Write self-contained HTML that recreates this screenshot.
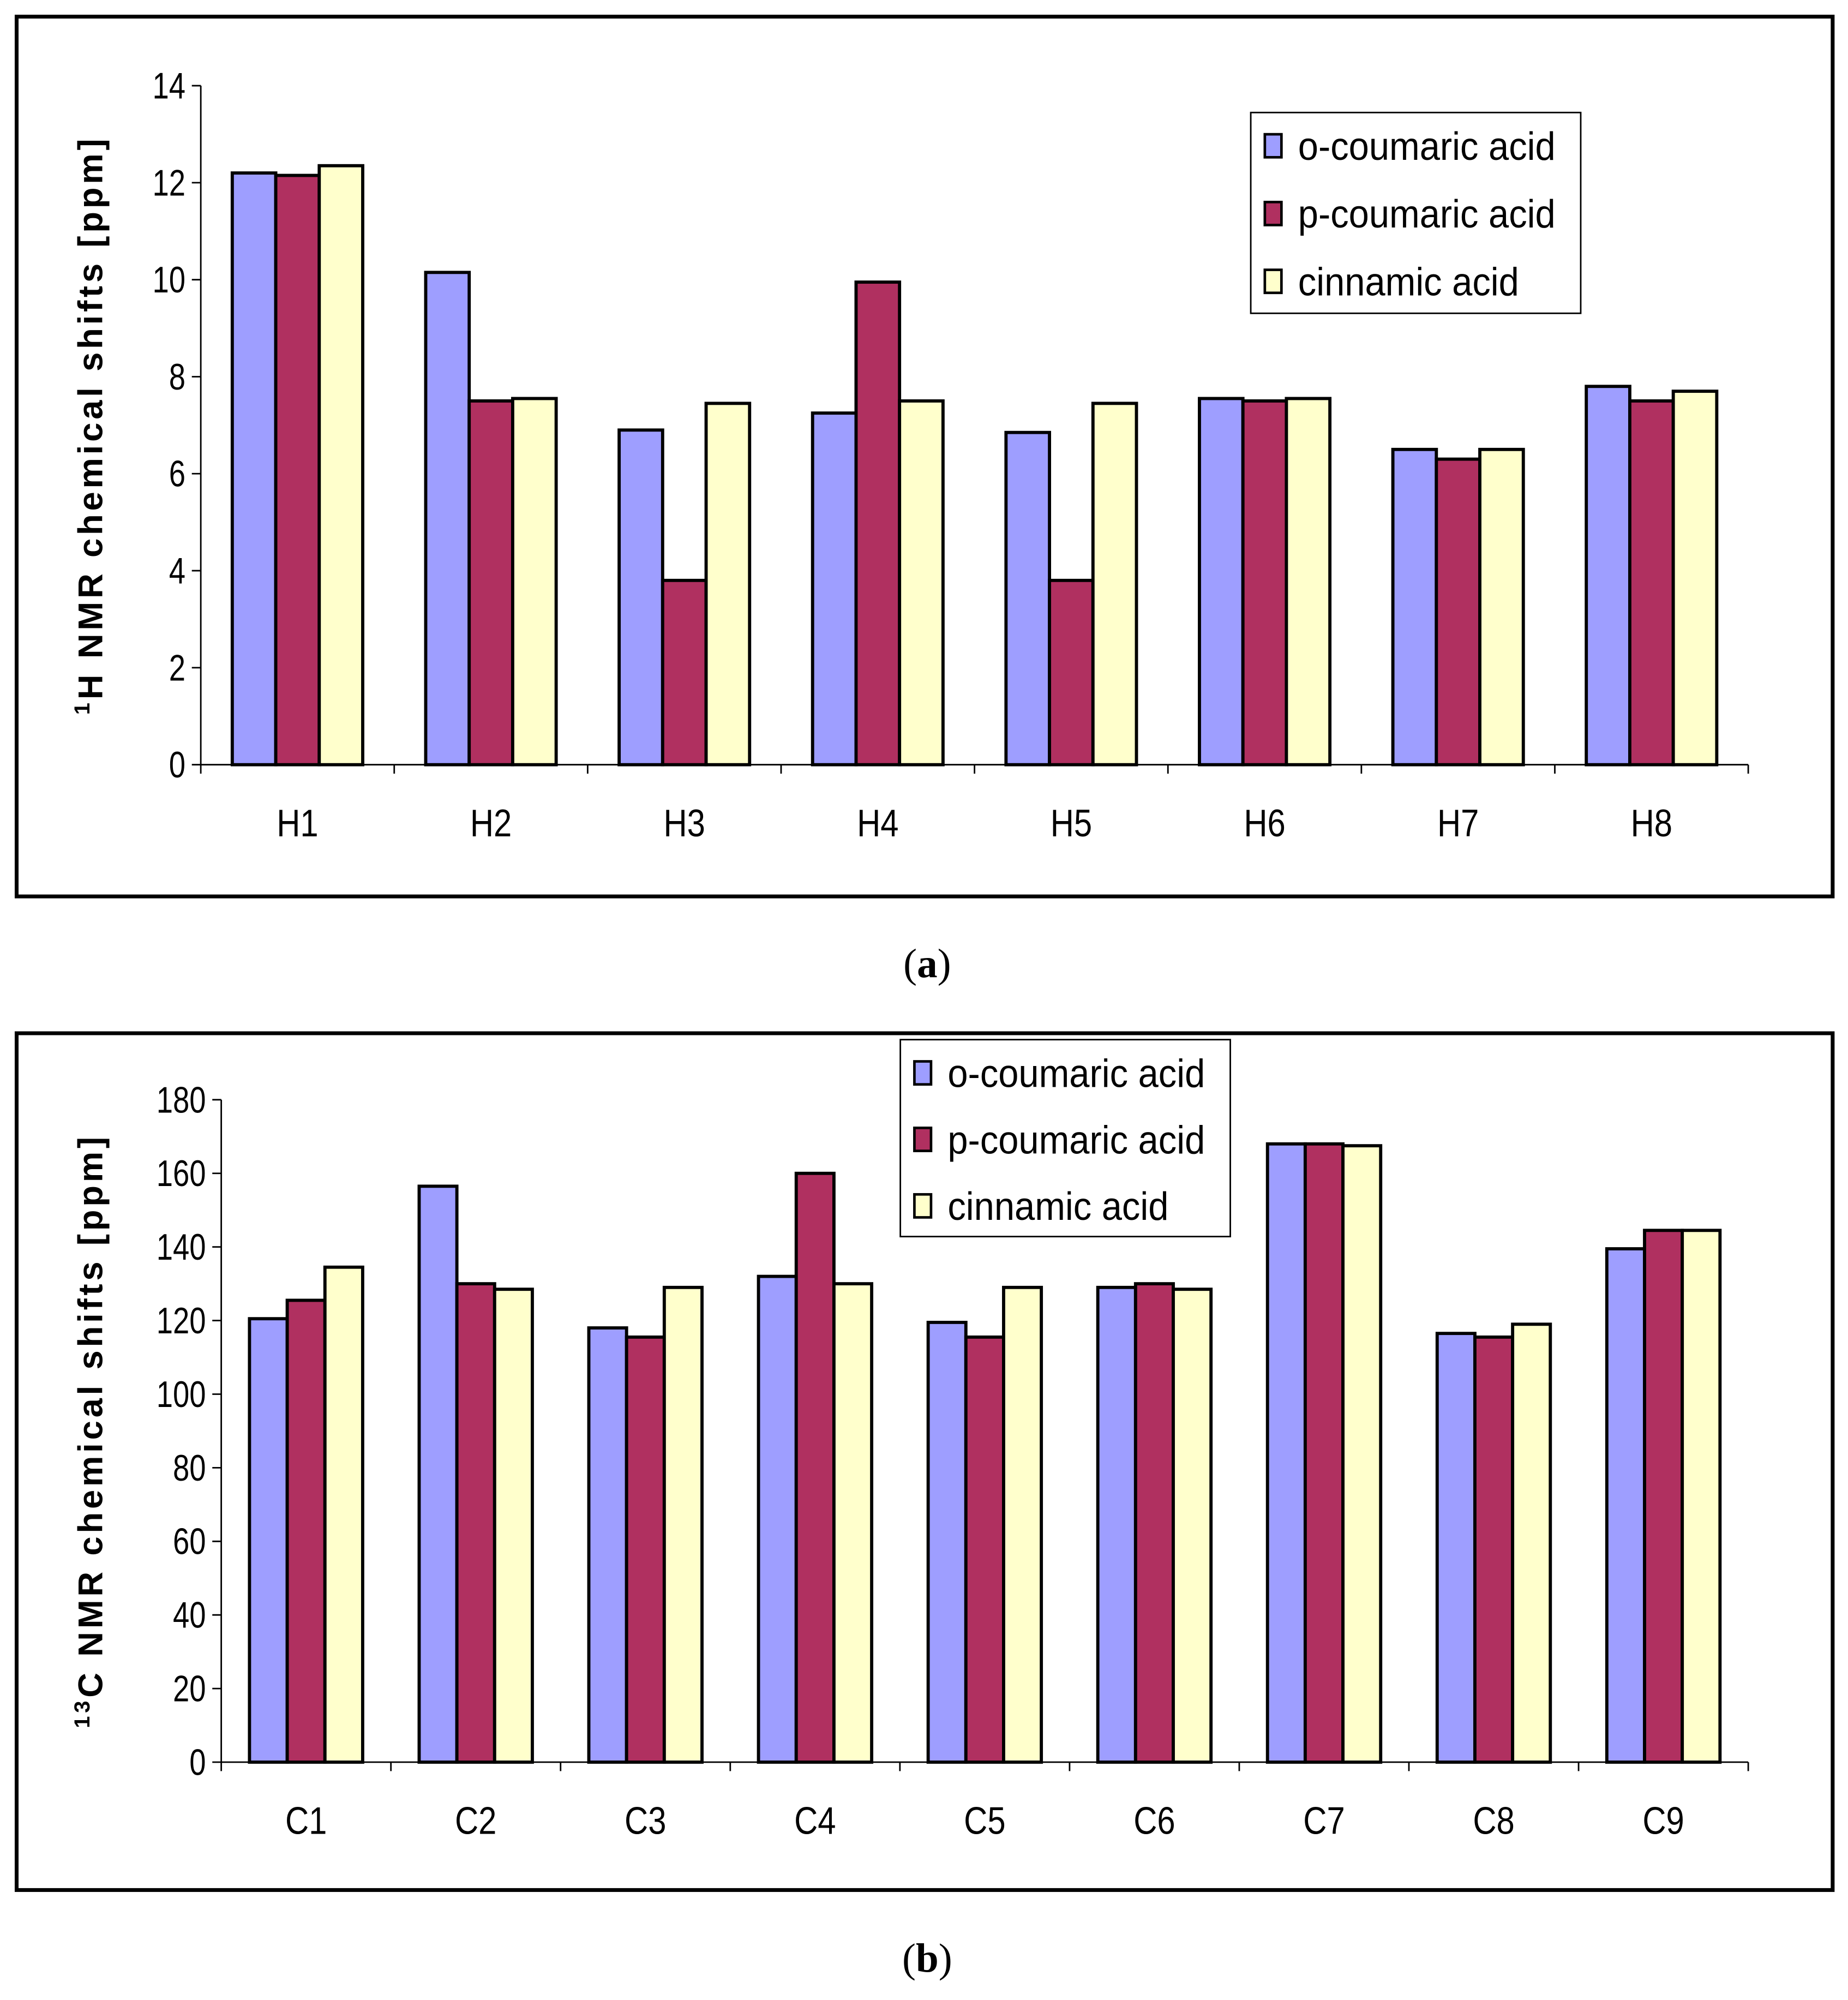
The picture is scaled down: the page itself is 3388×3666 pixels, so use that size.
<!DOCTYPE html>
<html><head><meta charset="utf-8"><style>
html,body{margin:0;padding:0;background:#fff;}
svg{display:block;}
</style></head><body>
<svg id="fig" width="3388" height="3666" viewBox="0 0 1445 1564" preserveAspectRatio="none" xmlns="http://www.w3.org/2000/svg" font-family="Liberation Sans, Arial, sans-serif">
<rect x="13" y="13" width="1420" height="688" fill="#fff" stroke="#000" stroke-width="3"/>
<rect x="13" y="808" width="1420" height="670" fill="#fff" stroke="#000" stroke-width="3"/>
<text x="725" y="764" text-anchor="middle" style="font-family:'Liberation Serif',serif" font-size="32">(<tspan font-weight="bold">a</tspan>)</text>
<text x="725" y="1542" text-anchor="middle" style="font-family:'Liberation Serif',serif" font-size="32">(<tspan font-weight="bold">b</tspan>)</text>
<g id="chartA"></g>
<g id="chartB"></g>
</svg>
<script>
const seriesNames = ["o-coumaric acid","p-coumaric acid","cinnamic acid"];
const colors = ["#9E9EFF","#B03060","#FFFFCC"];
const catsA = ["H1","H2","H3","H4","H5","H6","H7","H8"];
const oA = [12.2,10.15,6.9,7.25,6.85,7.55,6.5,7.8];
const pA = [12.15,7.5,3.8,9.95,3.8,7.5,6.3,7.5];
const cA = [12.35,7.55,7.45,7.5,7.45,7.55,6.5,7.7];
const ticksA = [0,2,4,6,8,10,12,14];
const catsB = ["C1","C2","C3","C4","C5","C6","C7","C8","C9"];
const oB = [120.5,156.5,118,132,119.5,129,168,116.5,139.5];
const pB = [125.5,130,115.5,160,115.5,130,168,115.5,144.5];
const cB = [134.5,128.5,129,130,129,128.5,167.5,119,144.5];
const ticksB = [0,20,40,60,80,100,120,140,160,180];
const NS="http://www.w3.org/2000/svg";
function mk(tag,attrs,parent){const e=document.createElementNS(NS,tag);for(const k in attrs)e.setAttribute(k,attrs[k]);parent.appendChild(e);return e;}
function draw(g,cfg){
  const {x0,x1,y0,y1,max,cats,series,ticks,barW,ylabelSup,ylabelRest,ytitleX,leg}=cfg;
  const ys=v=>y0-(v/max)*(y0-y1);
  const cw=(x1-x0)/cats.length;
  let ax=mk('line',{x1:x0,y1:y1,x2:x0,y2:y0,stroke:'#000','stroke-width':1.2},g);
  
  let bx=mk('line',{x1:x0,y1:y0,x2:x1,y2:y0,stroke:'#000','stroke-width':1.2},g);
  
  ticks.forEach(t=>{
    const y=ys(t);
    const tl=mk('line',{x1:x0-7,y1:y,x2:x0,y2:y,stroke:'#000','stroke-width':1.2},g);
    
    const tx=mk('text',{x:0,y:0,transform:`translate(${x0-12},${y+10}) scale(0.8,1)`,'text-anchor':'end','font-size':29},g);
    tx.textContent=t;
    
  });
  for(let i=0;i<=cats.length;i++){
    const x=x0+i*cw;
    const tl=mk('line',{x1:x,y1:y0,x2:x,y2:y0+7,stroke:'#000','stroke-width':1.2},g);
    
  }
  cats.forEach((c,i)=>{
    const cx=x0+(i+0.5)*cw;
    series.forEach((s,j)=>{
      const v=s[i];const bx=cx-1.5*barW+j*barW;
      const r=mk('rect',{x:bx,y:ys(v),width:barW,height:y0-ys(v),fill:colors[j],stroke:'#000','stroke-width':2.5},g);
      
      
    });
    const t=mk('text',{x:0,y:0,transform:`translate(${cx},${y0+56}) scale(0.85,1)`,'text-anchor':'middle','font-size':30},g);
    t.textContent=c;
    
  });
  const my=(y0+y1)/2;
  const yt=mk('text',{x:0,y:0,transform:`translate(${ytitleX},${my}) rotate(-90)`,'text-anchor':'middle','font-size':27,'font-weight':'bold','letter-spacing':2.5},g);
  const sp=mk('tspan',{'font-size':17,dy:-10},yt);sp.textContent=ylabelSup;
  const rest=mk('tspan',{dy:10},yt);rest.textContent=ylabelRest;
  
  const lg=mk('g',{},g);
  
  mk('rect',{x:leg.x,y:leg.y,width:leg.w,height:leg.h,fill:'#fff',stroke:'#000','stroke-width':1.2},lg);
  seriesNames.forEach((n,j)=>{
    const yy=leg.y+26+j*leg.step;
    const sw=mk('rect',{x:leg.x+11,y:yy-9,width:13,height:18,fill:colors[j],stroke:'#000','stroke-width':2},lg);
    
    const t=mk('text',{x:0,y:0,transform:`translate(${leg.x+37},${yy+11}) scale(0.92,1)`,'font-size':31},lg);
    t.textContent=n;
    
  });
}
draw(document.getElementById('chartA'),{x0:157,x1:1367,y0:598,y1:67,max:14,cats:catsA,series:[oA,pA,cA],ticks:ticksA,barW:34,ylabelSup:'1',ylabelRest:'H NMR chemical shifts [ppm]',ytitleX:80,leg:{x:978,y:88,w:258,h:157,step:53}});
draw(document.getElementById('chartB'),{x0:173,x1:1367,y0:1378,y1:860,max:180,cats:catsB,series:[oB,pB,cB],ticks:ticksB,barW:29.5,ylabelSup:'13',ylabelRest:'C NMR chemical shifts [ppm]',ytitleX:80,leg:{x:704,y:813,w:258,h:154,step:52}});
</script>
</body></html>
